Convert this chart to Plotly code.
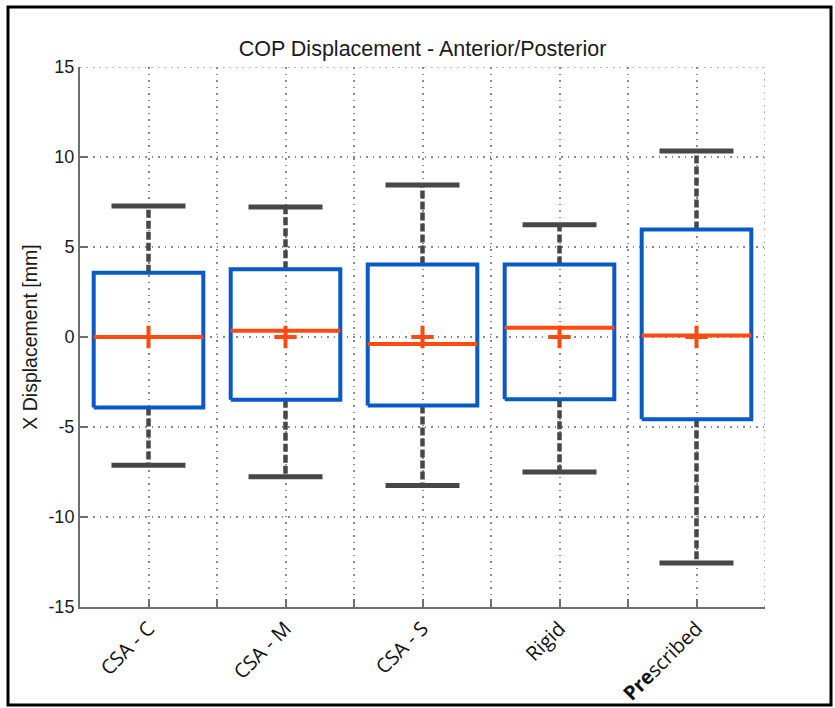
import plotly.graph_objects as go

# Box-plot summary statistics (mm) per condition
categories = ["CSA - C", "CSA - M", "CSA - S", "Rigid", "<b>Pre</b>scribed"]
upper_whisker = [7.28, 7.22, 8.45, 6.23, 10.33]
q3 = [3.57, 3.77, 4.03, 4.03, 5.97]
median = [0.0, 0.35, -0.39, 0.52, 0.08]
q1 = [-3.92, -3.49, -3.81, -3.46, -4.57]
lower_whisker = [-7.12, -7.77, -8.25, -7.50, -12.55]
mean = [0.0, 0.0, 0.0, 0.0, 0.0]
y_ticks = [-15, -10, -5, 0, 5, 10, 15]

BOX_HALF = 0.40
CAP_HALF = 0.27
BLUE = "#0a5ac6"
ORANGE = "#ff4a12"
GRAY = "#474747"
GRID = "#8a8a8a"
GRID_DASH = "1.5px,5px"

positions = list(range(1, len(categories) + 1))
x_range = [0.5, len(categories) + 0.5]
y_range = [y_ticks[0], y_ticks[-1]]

def segs(pairs):
    xs, ys = [], []
    for (xa, ya), (xb, yb) in pairs:
        xs += [xa, xb, None]
        ys += [ya, yb, None]
    return xs, ys

fig = go.Figure()

# whiskers (dashed)
wx, wy = segs(
    [((p, hi), (p, top)) for p, hi, top in zip(positions, q3, upper_whisker)]
    + [((p, lo), (p, bot)) for p, lo, bot in zip(positions, q1, lower_whisker)]
)
fig.add_trace(go.Scatter(x=wx, y=wy, mode="lines", hoverinfo="skip",
                         line=dict(color=GRAY, width=4.5, dash="8px,3px")))

# whisker caps
cx, cy = segs(
    [((p - CAP_HALF, v), (p + CAP_HALF, v)) for p, v in zip(positions, upper_whisker)]
    + [((p - CAP_HALF, v), (p + CAP_HALF, v)) for p, v in zip(positions, lower_whisker)]
)
fig.add_trace(go.Scatter(x=cx, y=cy, mode="lines", hoverinfo="skip",
                         line=dict(color=GRAY, width=5)))

# boxes
bx, by = [], []
for p, lo, hi in zip(positions, q1, q3):
    bx += [p - BOX_HALF, p + BOX_HALF, p + BOX_HALF, p - BOX_HALF, p - BOX_HALF, None]
    by += [lo, lo, hi, hi, lo, None]
fig.add_trace(go.Scatter(x=bx, y=by, mode="lines", hoverinfo="skip",
                         line=dict(color=BLUE, width=4)))

# medians
mx, my = segs([((p - BOX_HALF, m), (p + BOX_HALF, m)) for p, m in zip(positions, median)])
fig.add_trace(go.Scatter(x=mx, y=my, mode="lines", hoverinfo="skip",
                         line=dict(color=ORANGE, width=4)))

# means
fig.add_trace(go.Scatter(x=positions, y=mean, mode="markers", hoverinfo="skip",
                         marker=dict(symbol="cross-thin", size=16,
                                     line=dict(color=ORANGE, width=4))))

# x ticks at every half step; labels only on the categories
x_tickvals = [0.5 + 0.5 * i for i in range(2 * len(categories) + 1)]
x_ticktext = []
for v in x_tickvals:
    x_ticktext.append(categories[int(v) - 1] if float(v).is_integer() else "")

W, H = 835, 708
L, R, T, B = 80, 70, 67, 101
pw, ph = W - L - R, H - T - B

fig.update_layout(
    width=W, height=H,
    margin=dict(l=L, r=R, t=T, b=B, autoexpand=False),
    paper_bgcolor="white", plot_bgcolor="white",
    showlegend=False,
    title=dict(text="COP Displacement - Anterior/Posterior",
               x=0.5, xref="paper", xanchor="center",
               y=1 - 48 / H, yref="container", yanchor="middle",
               font=dict(family="Liberation Sans", size=21.5, color="#1a1a1a")),
    xaxis=dict(range=x_range, tickmode="array", tickvals=x_tickvals,
               ticktext=x_ticktext, tickangle=-45, automargin=False,
               ticks="inside", ticklen=8, tickcolor="#6e6e6e", tickwidth=1.5,
               showline=True, linecolor="#6e6e6e", linewidth=2,
               showgrid=True, gridcolor=GRID, gridwidth=1.5, griddash=GRID_DASH,
               zeroline=False,
               tickfont=dict(family="Open Sans", size=20, color="#111")),
    yaxis=dict(range=y_range, tickmode="array", tickvals=y_ticks,
               ticktext=[str(v) for v in y_ticks], automargin=False,
               ticks="inside", ticklen=8, tickcolor="#6e6e6e", tickwidth=1.5,
               showline=True, linecolor="#6e6e6e", linewidth=2,
               showgrid=True, gridcolor=GRID, gridwidth=1.5, griddash=GRID_DASH,
               zeroline=False,
               title=dict(text="X Displacement [mm]", standoff=6,
                          font=dict(family="Liberation Sans", size=19.5, color="#1a1a1a")),
               tickfont=dict(family="Liberation Sans", size=18, color="#1a1a1a")),
)

# grid lines on the top and right edges of the axes box
fig.add_shape(type="line", xref="x", yref="y",
              x0=x_range[0], x1=x_range[1], y0=y_range[1], y1=y_range[1],
              line=dict(color=GRID, width=1.5, dash=GRID_DASH), layer="below")
fig.add_shape(type="line", xref="x", yref="y",
              x0=x_range[1], x1=x_range[1], y0=y_range[0], y1=y_range[1],
              line=dict(color=GRID, width=1.5, dash=GRID_DASH), layer="below")

# outer frame around the figure
fig.add_shape(type="rect", xref="paper", yref="paper",
              x0=(8 - L) / pw, x1=(831 - L) / pw,
              y0=(H - B - 705) / ph, y1=(H - B - 7) / ph,
              line=dict(color="black", width=3), fillcolor="rgba(0,0,0,0)")

fig.write_html("out.html")
